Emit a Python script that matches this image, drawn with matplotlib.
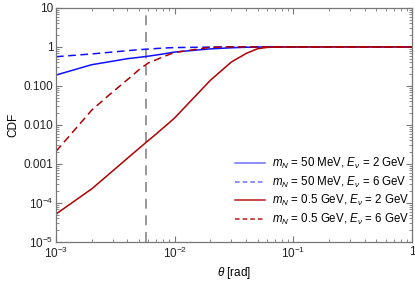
import matplotlib.pyplot as plt
import matplotlib.ticker as mticker
import numpy as np

plt.rcParams['font.family'] = ['Liberation Sans', 'DejaVu Sans']
plt.rcParams['mathtext.fontset'] = 'custom'
plt.rcParams['mathtext.rm'] = 'Liberation Sans'
plt.rcParams['mathtext.it'] = 'Liberation Sans:italic'

# theta grid [rad]
theta = [0.001, 0.002, 0.003, 0.004, 0.005, 0.006, 0.007, 0.008, 0.009,
         0.01, 0.02, 0.03, 0.04, 0.05, 0.06, 0.07, 0.08, 0.09,
         0.1, 0.2, 0.3, 0.4, 0.5, 0.6, 0.7, 0.8, 0.9, 1.0]

# m_N = 50 MeV, E = 2 GeV
cdf_50_2 = [0.19, 0.35, 0.43, 0.50, 0.54, 0.58, 0.62, 0.66, 0.70,
            0.74, 0.89, 0.95, 0.98, 0.99, 1.0, 1.0, 1.0, 1.0,
            1.0, 1.0, 1.0, 1.0, 1.0, 1.0, 1.0, 1.0, 1.0, 1.0]
# m_N = 50 MeV, E = 6 GeV
cdf_50_6 = [0.56, 0.66, 0.74, 0.80, 0.85, 0.88, 0.91, 0.93, 0.95,
            0.96, 0.99, 1.0, 1.0, 1.0, 1.0, 1.0, 1.0, 1.0,
            1.0, 1.0, 1.0, 1.0, 1.0, 1.0, 1.0, 1.0, 1.0, 1.0]
# m_N = 0.5 GeV, E = 2 GeV
cdf_05_2 = [5.2e-5, 2.3e-4, 6.6e-4, 1.4e-3, 2.5e-3, 4.0e-3, 5.9e-3, 8.4e-3, 0.0114,
            0.0152, 0.14, 0.41, 0.68, 0.90, 0.97, 0.99, 1.0, 1.0,
            1.0, 1.0, 1.0, 1.0, 1.0, 1.0, 1.0, 1.0, 1.0, 1.0]
# m_N = 0.5 GeV, E = 6 GeV
cdf_05_6 = [0.0021, 0.024, 0.07, 0.145, 0.26, 0.39, 0.47, 0.56, 0.64,
            0.72, 0.98, 1.0, 1.0, 1.0, 1.0, 1.0, 1.0, 1.0,
            1.0, 1.0, 1.0, 1.0, 1.0, 1.0, 1.0, 1.0, 1.0, 1.0]

theta_cut = 0.00568

blue = '#1010ff'
red = '#b00000'

fig, ax = plt.subplots(figsize=(4.15, 2.82), dpi=100)
fig.subplots_adjust(left=0.135, right=0.993, top=0.972, bottom=0.142)

ax.axvline(theta_cut, color='#888888', linestyle=(0, (6, 4)), linewidth=1.2)

ax.plot(theta, cdf_50_2, color=blue, linewidth=1.1)
ax.plot(theta, cdf_50_6, color=blue, linewidth=1.1, linestyle=(0, (5, 3)))
ax.plot(theta, cdf_05_2, color=red, linewidth=1.1)
ax.plot(theta, cdf_05_6, color=red, linewidth=1.1, linestyle=(0, (5, 3)))

ax.set_xscale('log')
ax.set_yscale('log')
ax.set_xlim(1e-3, 1)
ax.set_ylim(1e-5, 10)

ax.set_xticks([1e-3, 1e-2, 1e-1, 1])
ax.set_xticklabels(['$10^{-3}$', '$10^{-2}$', '$10^{-1}$', '1'])
ax.set_yticks([1e-5, 1e-4, 1e-3, 1e-2, 1e-1, 1, 10])
ax.set_yticklabels(['$10^{-5}$', '$10^{-4}$', '0.001', '0.010', '0.100', '1', '10'])
ax.xaxis.set_minor_locator(mticker.LogLocator(base=10, subs=np.arange(2, 10), numticks=20))
ax.yaxis.set_minor_locator(mticker.LogLocator(base=10, subs=np.arange(2, 10), numticks=20))
ax.xaxis.set_minor_formatter(mticker.NullFormatter())
ax.yaxis.set_minor_formatter(mticker.NullFormatter())

ax.tick_params(which='both', direction='in', top=True, right=True,
               color='#777777', labelsize=8.5, labelcolor='#222222')
ax.tick_params(which='major', length=4.5, width=0.8, pad=2)
ax.tick_params(which='minor', length=2.3, width=0.6)
ax.tick_params(axis='x', which='major', pad=3)
for s in ax.spines.values():
    s.set_color('#777777')
    s.set_linewidth(0.9)

ax.set_xlabel(r'$\theta$ [rad]', fontsize=8.5, labelpad=3)
ax.set_ylabel('CDF', fontsize=8.5, labelpad=3)

handles = [
    plt.Line2D([], [], color=blue, alpha=0.6, linewidth=1.1),
    plt.Line2D([], [], color=blue, alpha=0.6, linewidth=1.1, linestyle=(0, (3, 2))),
    plt.Line2D([], [], color=red, alpha=0.9, linewidth=1.1),
    plt.Line2D([], [], color=red, alpha=0.9, linewidth=1.1, linestyle=(0, (3, 2))),
]
labels = [
    r'$m_N$ = 50 MeV, $E_\nu$ = 2 GeV',
    r'$m_N$ = 50 MeV, $E_\nu$ = 6 GeV',
    r'$m_N$ = 0.5 GeV, $E_\nu$ = 2 GeV',
    r'$m_N$ = 0.5 GeV, $E_\nu$ = 6 GeV',
]
ax.legend(handles, labels, loc='lower right', bbox_to_anchor=(1.01, 0.035),
          frameon=False, fontsize=8.3, handlelength=2.6, handletextpad=0.6,
          labelspacing=0.3, borderaxespad=0.2)

plt.savefig('out.png', dpi=100)
